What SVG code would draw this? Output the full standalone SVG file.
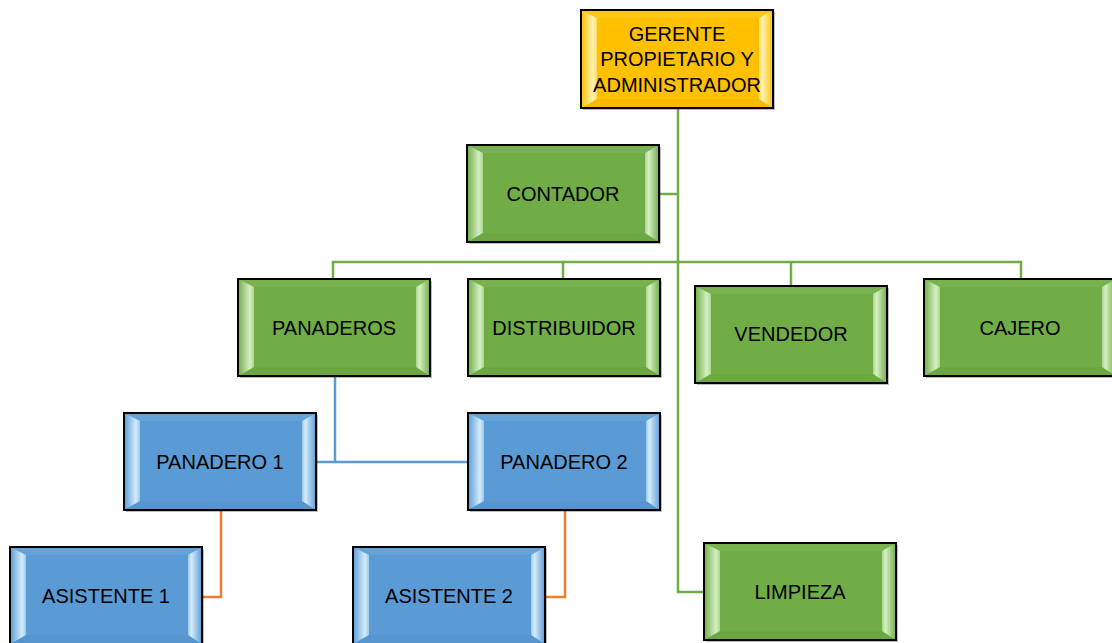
<svg xmlns="http://www.w3.org/2000/svg" xmlns:xlink="http://www.w3.org/1999/xlink" width="1112" height="643" viewBox="0 0 1112 643">
<style>
text{font-family:"Liberation Sans",Arial,sans-serif;font-size:20px;fill:#000;text-anchor:middle}
.g{stroke:#70AD47;stroke-width:2.5;fill:none}
.b{stroke:#5B9BD5;stroke-width:2.5;fill:none}
.o{stroke:#ED7D31;stroke-width:2.5;fill:none}
.frame{stroke:#000;stroke-width:2}
</style>
<defs>
<linearGradient id="lg" x1="0" y1="0" x2="1" y2="0"><stop offset="0" stop-color="#70AD47"/><stop offset="0.75" stop-color="#D6EFC4"/><stop offset="1" stop-color="#A9D58C"/></linearGradient>
<linearGradient id="rg" x1="1" y1="0" x2="0" y2="0"><stop offset="0" stop-color="#70AD47"/><stop offset="0.75" stop-color="#D6EFC4"/><stop offset="1" stop-color="#A9D58C"/></linearGradient>
<linearGradient id="lb" x1="0" y1="0" x2="1" y2="0"><stop offset="0" stop-color="#5B9BD5"/><stop offset="0.75" stop-color="#D4ECFA"/><stop offset="1" stop-color="#9CC8EC"/></linearGradient>
<linearGradient id="rb" x1="1" y1="0" x2="0" y2="0"><stop offset="0" stop-color="#5B9BD5"/><stop offset="0.75" stop-color="#D4ECFA"/><stop offset="1" stop-color="#9CC8EC"/></linearGradient>
<linearGradient id="ly" x1="0" y1="0" x2="1" y2="0"><stop offset="0" stop-color="#FFC000"/><stop offset="0.75" stop-color="#FFF2B0"/><stop offset="1" stop-color="#FFD966"/></linearGradient>
<linearGradient id="ry" x1="1" y1="0" x2="0" y2="0"><stop offset="0" stop-color="#FFC000"/><stop offset="0.75" stop-color="#FFF2B0"/><stop offset="1" stop-color="#FFD966"/></linearGradient>
<symbol id="boxG" width="196" height="101" viewBox="0 0 196 101" overflow="visible">
<rect x="2" y="2" width="192" height="97" fill="#000" opacity="0.25"/>
<rect x="0" y="0" width="192" height="97" fill="#70AD47"/>
<polygon points="0,0 192,0 178,8 16,8" fill="#78B350"/>
<polygon points="0,97 192,97 178,88 16,88" fill="#6BA843"/>
<polygon points="0,0 16,8 16,88 0,97" fill="url(#lg)"/>
<polygon points="192,0 178,8 178,88 192,97" fill="url(#rg)"/>
<rect x="0" y="0" width="192" height="97" fill="none" class="frame"/>
</symbol>
<symbol id="boxB" width="196" height="101" viewBox="0 0 196 101" overflow="visible">
<rect x="2" y="2" width="192" height="97" fill="#000" opacity="0.25"/>
<rect x="0" y="0" width="192" height="97" fill="#5B9BD5"/>
<polygon points="0,0 192,0 178,8 16,8" fill="#64A2DA"/>
<polygon points="0,97 192,97 178,88 16,88" fill="#5795CE"/>
<polygon points="0,0 16,8 16,88 0,97" fill="url(#lb)"/>
<polygon points="192,0 178,8 178,88 192,97" fill="url(#rb)"/>
<rect x="0" y="0" width="192" height="97" fill="none" class="frame"/>
</symbol>
<symbol id="boxY" width="196" height="102" viewBox="0 0 196 102" overflow="visible">
<rect x="2" y="2" width="192" height="98" fill="#000" opacity="0.25"/>
<rect x="0" y="0" width="192" height="98" fill="#FFC000"/>
<polygon points="0,0 192,0 178,8 16,8" fill="#FFC613"/>
<polygon points="0,98 192,98 178,89 16,89" fill="#F7BA00"/>
<polygon points="0,0 16,8 16,89 0,98" fill="url(#ly)"/>
<polygon points="192,0 178,8 178,89 192,98" fill="url(#ry)"/>
<rect x="0" y="0" width="192" height="98" fill="none" class="frame"/>
</symbol>
</defs>
<rect width="1112" height="643" fill="#fff"/>
<g id="connectors">
<path class="g" d="M678,108 V592 H704"/>
<path class="g" d="M659,194 H678"/>
<path class="g" d="M333,279 V262 H1021 V279"/>
<path class="g" d="M563,262 V279"/>
<path class="g" d="M791,262 V286"/>
<path class="b" d="M335,376 V462"/>
<path class="b" d="M316,462 H468"/>
<path class="o" d="M221,510 V597 H202"/>
<path class="o" d="M565,510 V597 H545"/>
</g>
<g id="gerente">
<use xlink:href="#boxY" x="581" y="10"/>
<text x="677" y="41">GERENTE</text>
<text x="677" y="66">PROPIETARIO Y</text>
<text x="677" y="92">ADMINISTRADOR</text>
</g>
<g id="contador">
<use xlink:href="#boxG" x="467" y="145"/>
<text x="563" y="201">CONTADOR</text>
</g>
<g id="panaderos">
<use xlink:href="#boxG" x="238" y="279"/>
<text x="334" y="335">PANADEROS</text>
</g>
<g id="distribuidor">
<use xlink:href="#boxG" x="468" y="279"/>
<text x="564" y="335">DISTRIBUIDOR</text>
</g>
<g id="vendedor">
<use xlink:href="#boxG" x="695" y="286"/>
<text x="791" y="341">VENDEDOR</text>
</g>
<g id="cajero">
<use xlink:href="#boxG" x="924" y="279"/>
<text x="1020" y="335">CAJERO</text>
</g>
<g id="panadero1">
<use xlink:href="#boxB" x="124" y="413"/>
<text x="220" y="469">PANADERO 1</text>
</g>
<g id="panadero2">
<use xlink:href="#boxB" x="468" y="413"/>
<text x="564" y="469">PANADERO 2</text>
</g>
<g id="asistente1">
<use xlink:href="#boxB" x="10" y="547"/>
<text x="106" y="603">ASISTENTE 1</text>
</g>
<g id="asistente2">
<use xlink:href="#boxB" x="353" y="547"/>
<text x="449" y="603">ASISTENTE 2</text>
</g>
<g id="limpieza">
<use xlink:href="#boxG" x="704" y="543"/>
<text x="800" y="599">LIMPIEZA</text>
</g>
</svg>
